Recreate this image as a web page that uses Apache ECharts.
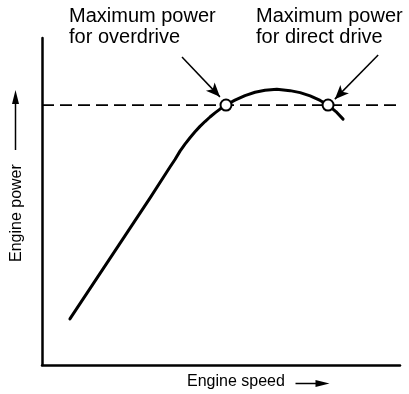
<!DOCTYPE html>
<html>
<head>
<meta charset="utf-8">
<script src="https://cdn.jsdelivr.net/npm/echarts@6/dist/echarts.min.js"></script>
<style>
  html, body { margin: 0; padding: 0; background: #fff; }
  #chart { width: 409px; height: 394px; }
</style>
</head>
<body>
<div id="chart"></div>
<script>
// Engine power against engine speed (relative units, 0-100 on both axes)
const speed = [7.8, 30.2, 35.75, 37.15, 38.55, 39.94, 41.34, 42.74, 44.13, 45.53, 46.93, 48.32, 49.72, 51.4, 53.9, 56.7, 59.5, 62.3, 65.6, 69.3, 72.1, 74.9, 77.7, 79.9, 82.1, 84.1];
const power = [14.1, 51.1, 60.55, 62.84, 65.41, 67.55, 69.51, 71.31, 72.97, 74.46, 75.84, 77.09, 78.26, 79.5, 81.0, 82.4, 83.4, 84.0, 84.3, 83.9, 83.3, 82.3, 80.9, 79.5, 77.5, 75.2];

// Power level drawn as the horizontal dashed line
const levelPower = 79.5;
const levelSpan = [0, 99.5];

// Operating points where the level meets the power curve
const overdrivePoint = [51.4, 79.5];
const directDrivePoint = [79.9, 79.5];

// Callout arrows: [tail, head] in axis units
const overdriveArrow = [[39.1, 94.2], [49.7, 82.0]];
const directArrow = [[93.9, 94.8], [81.8, 81.3]];

const overdriveText = 'Maximum power\nfor overdrive';
const directText = 'Maximum power\nfor direct drive';
const xName = 'Engine speed';
const yName = 'Engine power';

const FONT = '"Liberation Sans", Arial, sans-serif';

const chart = echarts.init(document.getElementById('chart'), null, { renderer: 'canvas' });

const curve = speed.map((s, i) => [s, power[i]]);

chart.setOption({
  animation: false,
  backgroundColor: '#fff',
  grid: { left: 42, right: 9, top: 38, bottom: 29 },
  xAxis: {
    type: 'value', min: 0, max: 100,
    axisLine: { show: true, onZero: false, lineStyle: { color: '#000', width: 2.5 } },
    axisTick: { show: false }, axisLabel: { show: false }, splitLine: { show: false }
  },
  yAxis: {
    type: 'value', min: 0, max: 100,
    axisLine: { show: true, onZero: false, lineStyle: { color: '#000', width: 2.5 } },
    axisTick: { show: false }, axisLabel: { show: false }, splitLine: { show: false }
  },
  series: [
    {
      name: 'level', type: 'line', silent: true, symbol: 'none',
      data: levelSpan.map(x => [x, levelPower]),
      lineStyle: { color: '#000', width: 1.8, type: [12, 6] },
      z: 2
    },
    {
      name: 'power', type: 'line', silent: true, symbol: 'none', smooth: false,
      data: curve,
      lineStyle: { color: '#000', width: 3, join: 'round', cap: 'round' },
      z: 3,
      markLine: {
        silent: true,
        symbol: ['none', 'arrow'],
        symbolSize: [9, 14],
        label: { show: false },
        lineStyle: { color: '#000', width: 1.5, type: 'solid' },
        data: [
          [{ coord: overdriveArrow[0] }, { coord: overdriveArrow[1] }],
          [{ coord: directArrow[0] }, { coord: directArrow[1] }]
        ]
      }
    },
    {
      name: 'points', type: 'scatter', silent: true, symbol: 'circle', symbolSize: 11,
      data: [overdrivePoint, directDrivePoint],
      itemStyle: { color: '#fff', borderColor: '#000', borderWidth: 2, opacity: 1 },
      z: 5
    }
  ],
  graphic: [
    {
      type: 'text', left: 69, top: 6,
      style: { text: overdriveText, font: '20px ' + FONT, fill: '#000', lineHeight: 21 }
    },
    {
      type: 'text', left: 256, top: 6,
      style: { text: directText, font: '20px ' + FONT, fill: '#000', lineHeight: 21 }
    },
    {
      type: 'text', left: 187, top: 374,
      style: { text: xName, font: '16px ' + FONT, fill: '#000' }
    },
    {
      type: 'group', left: 293, top: 380,
      children: [
        { type: 'line', shape: { x1: 0, y1: 5, x2: 24, y2: 5 }, style: { stroke: '#000', lineWidth: 1.5 } },
        { type: 'polygon', shape: { points: [[20, 1.5], [34, 5], [20, 8.5]] }, style: { fill: '#000' } }
      ]
    },
    {
      type: 'text', x: 17, y: 262, rotation: Math.PI / 2,
      style: { text: yName, font: '16px ' + FONT, fill: '#000', textVerticalAlign: 'middle' }
    },
    {
      type: 'group', left: 12, top: 90,
      children: [
        { type: 'line', shape: { x1: 5, y1: 60, x2: 5, y2: 10 }, style: { stroke: '#000', lineWidth: 1.5 } },
        { type: 'polygon', shape: { points: [[1.5, 14], [5, 0], [8.5, 14]] }, style: { fill: '#000' } }
      ]
    }
  ]
});
</script>
</body>
</html>
